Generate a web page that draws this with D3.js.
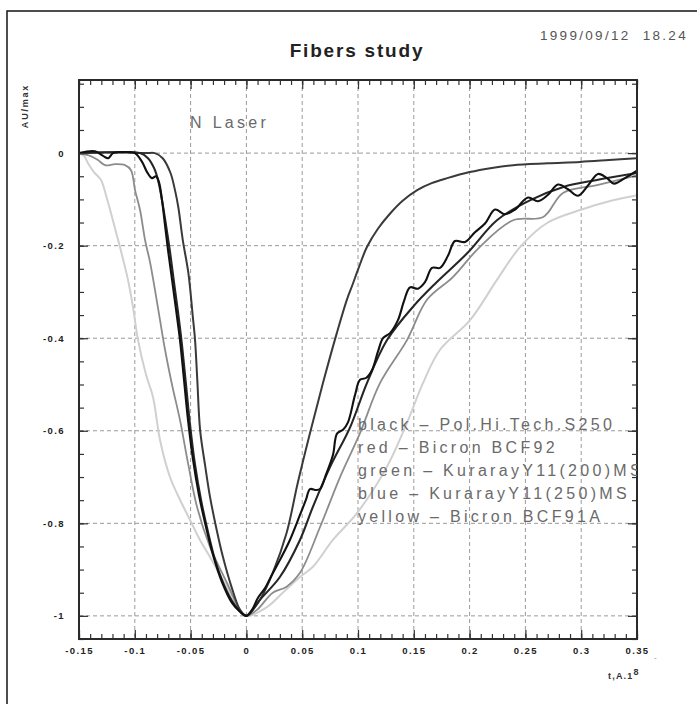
<!DOCTYPE html>
<html>
<head>
<meta charset="utf-8">
<script src="https://cdn.jsdelivr.net/npm/d3@7"></script>
<style>
  html, body { margin: 0; padding: 0; background: #fff; }
  svg { display: block; }
</style>
</head>
<body>
<script>
// ---- axis ticks ----
const xTicks = [-0.15, -0.1, -0.05, 0, 0.05, 0.1, 0.15, 0.2, 0.25, 0.3, 0.35];
const xTickLabels = ["-0.15", "-0.1", "-0.05", "0", "0.05", "0.1", "0.15", "0.2", "0.25", "0.3", "0.35"];
const yTicks = [0, -0.2, -0.4, -0.6, -0.8, -1];
const yTickLabels = ["0", "-0.2", "-0.4", "-0.6", "-0.8", "-1"];

// ---- series: [time, normalised amplitude] ----
const seriesKeys = ["yellow", "green", "red", "blue", "black"];
const legendLines = [
  "black \u2013 Pol.Hi.Tech.S250",
  "red \u2013 Bicron BCF92",
  "green \u2013 KurarayY11(200)MS",
  "blue \u2013 KurarayY11(250)MS",
  "yellow \u2013 Bicron BCF91A"
];

const black = [
  [-0.15, 0], [-0.1357, 0.004], [-0.1285, -0.006], [-0.124, -0.011], [-0.1195, 0], [-0.113, 0.002],
  [-0.1, 0], [-0.0935, -0.019], [-0.089, -0.041], [-0.0846, -0.054], [-0.081, -0.05], [-0.0783, -0.063],
  [-0.0756, -0.102], [-0.0729, -0.156], [-0.0702, -0.21], [-0.0666, -0.274], [-0.063, -0.339],
  [-0.0595, -0.404], [-0.0559, -0.49], [-0.0523, -0.577], [-0.0478, -0.663], [-0.0425, -0.739],
  [-0.0362, -0.808], [-0.03, -0.868], [-0.0219, -0.927], [-0.0129, -0.972], [-0.0057, -0.991], [0, -1],
  [0.005, -0.987], [0.0104, -0.961], [0.0167, -0.94], [0.0229, -0.911], [0.0301, -0.879], [0.039, -0.836],
  [0.048, -0.782], [0.0534, -0.749], [0.057, -0.726], [0.0624, -0.728], [0.066, -0.726], [0.0713, -0.695],
  [0.0776, -0.652], [0.0812, -0.606], [0.0866, -0.598], [0.091, -0.582], [0.0973, -0.523], [0.1018, -0.49],
  [0.1072, -0.486], [0.1125, -0.469], [0.118, -0.428], [0.1224, -0.4], [0.1287, -0.389], [0.1358, -0.361],
  [0.1412, -0.32], [0.1466, -0.29], [0.1538, -0.293], [0.16, -0.279], [0.1663, -0.248], [0.1735, -0.248],
  [0.1806, -0.222], [0.1869, -0.19], [0.1959, -0.192], [0.2048, -0.171], [0.2138, -0.152], [0.2228, -0.122],
  [0.2317, -0.132], [0.2407, -0.122], [0.2523, -0.096], [0.2613, -0.104], [0.2703, -0.09], [0.2792, -0.068],
  [0.2882, -0.078], [0.2971, -0.092], [0.3061, -0.07], [0.3151, -0.045], [0.3231, -0.054], [0.3294, -0.066],
  [0.3392, -0.054], [0.35, -0.038]
];

const red = [
  [-0.15, 0], [-0.12, 0.002], [-0.09, 0], [-0.082, 0], [-0.075, -0.011], [-0.068, -0.043], [-0.064, -0.08],
  [-0.061, -0.117], [-0.057, -0.188], [-0.052, -0.259], [-0.048, -0.354], [-0.046, -0.404], [-0.044, -0.49],
  [-0.0415, -0.598], [-0.037, -0.675], [-0.0326, -0.743], [-0.027, -0.81], [-0.021, -0.873], [-0.013, -0.94],
  [-0.0057, -0.987], [0, -1],
  [0.003, -0.994], [0.0122, -0.965], [0.0236, -0.907], [0.036, -0.821], [0.046, -0.713], [0.057, -0.605],
  [0.0686, -0.497], [0.081, -0.389], [0.09, -0.317], [0.095, -0.285], [0.1, -0.252], [0.108, -0.203],
  [0.118, -0.163], [0.129, -0.13], [0.14, -0.103], [0.153, -0.08], [0.166, -0.065], [0.18, -0.054],
  [0.2, -0.041], [0.22, -0.032], [0.239, -0.026], [0.27, -0.022], [0.299, -0.019], [0.325, -0.015], [0.35, -0.011]
];

const blue = [
  [-0.15, 0], [-0.12, 0.002], [-0.0953, 0], [-0.0882, -0.011], [-0.0828, -0.032], [-0.0792, -0.058],
  [-0.0756, -0.102], [-0.072, -0.156], [-0.0684, -0.214], [-0.0649, -0.279], [-0.0613, -0.343],
  [-0.0577, -0.415], [-0.0541, -0.501], [-0.0505, -0.587], [-0.046, -0.674], [-0.0407, -0.749],
  [-0.0344, -0.819], [-0.0281, -0.879], [-0.0201, -0.933], [-0.0111, -0.974], [0, -1],
  [0.0122, -0.965], [0.03, -0.916], [0.048, -0.836], [0.0595, -0.765], [0.075, -0.678], [0.093, -0.592],
  [0.108, -0.497], [0.126, -0.404], [0.15, -0.33], [0.17, -0.28], [0.198, -0.216], [0.2245, -0.145],
  [0.254, -0.102], [0.284, -0.073], [0.314, -0.058], [0.35, -0.043]
];

const green = [
  [-0.15, 0], [-0.14, -0.006], [-0.133, -0.015], [-0.1267, -0.026], [-0.1177, -0.024], [-0.1088, -0.026],
  [-0.1034, -0.037], [-0.0998, -0.08], [-0.0953, -0.123], [-0.0908, -0.188], [-0.0864, -0.235],
  [-0.0819, -0.296], [-0.0774, -0.361], [-0.0729, -0.425], [-0.0666, -0.501], [-0.0595, -0.577],
  [-0.0523, -0.67], [-0.0442, -0.765], [-0.0326, -0.851], [-0.0174, -0.929], [-0.0057, -0.987], [0, -1],
  [0.0095, -0.987], [0.0236, -0.95], [0.036, -0.937], [0.048, -0.907], [0.066, -0.808], [0.0839, -0.7],
  [0.1018, -0.605], [0.1197, -0.497], [0.1439, -0.404], [0.1618, -0.317], [0.185, -0.268], [0.209, -0.203],
  [0.239, -0.145], [0.266, -0.138], [0.2837, -0.086], [0.3142, -0.069], [0.35, -0.048]
];

const yellow = [
  [-0.15, 0], [-0.1455, -0.006], [-0.1419, -0.022], [-0.1366, -0.041], [-0.1303, -0.058], [-0.1258, -0.091],
  [-0.1213, -0.13], [-0.1168, -0.171], [-0.1133, -0.203], [-0.1061, -0.274], [-0.1016, -0.333],
  [-0.0971, -0.404], [-0.0899, -0.479], [-0.0837, -0.527], [-0.0774, -0.62], [-0.0685, -0.7],
  [-0.0595, -0.749], [-0.0505, -0.793], [-0.0416, -0.836], [-0.0326, -0.873], [-0.0237, -0.911],
  [-0.0147, -0.95], [-0.0057, -0.989], [0, -1],
  [0.0184, -0.981], [0.0326, -0.95], [0.048, -0.916], [0.0596, -0.894], [0.0775, -0.836], [0.0991, -0.778],
  [0.1259, -0.678], [0.1439, -0.583], [0.1582, -0.497], [0.1735, -0.425], [0.2004, -0.361], [0.2245, -0.274],
  [0.2452, -0.203], [0.2694, -0.151], [0.2991, -0.123], [0.3285, -0.102], [0.35, -0.091]
];

const seriesData = { black, red, blue, green, yellow };

// grey levels the colour plot prints with
const strokeOf = { black: "#111", blue: "#262626", red: "#3a3a3a", green: "#8c8c8c", yellow: "#d0d0d0" };
const widthOf = { black: 2.1, blue: 2.1, red: 2, green: 1.8, yellow: 2 };

// ---- layout ----
const W = 697, H = 704;
const L = 79, R = 637, T = 80, B = 639;

const svg = d3.select("body").append("svg").attr("width", W).attr("height", H);
svg.append("rect").attr("width", W).attr("height", H).attr("fill", "#fff");

// page frame
svg.append("rect").attr("x", 7).attr("y", 11).attr("width", 720).attr("height", 720)
  .attr("fill", "none").attr("stroke", "#222").attr("stroke-width", 1.6);

const x = d3.scaleLinear().domain([-0.15, 0.35]).range([L, R]);
const y = d3.scaleLinear().domain([-1.05, 0.158]).range([B, T]);

const fontFam = "'Liberation Sans', Arial, Helvetica, sans-serif";

// grid
const grid = svg.append("g").attr("stroke", "#9a9a9a").attr("stroke-width", 1).attr("stroke-dasharray", "4,3");
xTicks.slice(1, -1).forEach(v => {
  grid.append("line").attr("x1", x(v)).attr("x2", x(v)).attr("y1", T).attr("y2", B);
});
yTicks.forEach(v => {
  grid.append("line").attr("x1", L).attr("x2", R).attr("y1", y(v)).attr("y2", y(v));
});

// curves
svg.append("clipPath").attr("id", "plotClip")
  .append("rect").attr("x", L).attr("y", T).attr("width", R - L).attr("height", B - T);

const line = d3.line().x(d => x(d[0])).y(d => y(d[1])).curve(d3.curveCatmullRom.alpha(0.5));
const curves = svg.append("g").attr("clip-path", "url(#plotClip)");
seriesKeys.forEach(k => {
  curves.append("path").datum(seriesData[k])
    .attr("d", line).attr("fill", "none")
    .attr("stroke", strokeOf[k]).attr("stroke-width", widthOf[k])
    .attr("stroke-linejoin", "round");
});

// ticks on all four sides, pointing inward
const minorX = d3.range(-150, 351, 10).map(v => v / 1000);
const minorY = d3.range(-1050, 151, 50).map(v => v / 1000);

function styleAxis(g) {
  g.select(".domain").remove();
  g.selectAll(".tick line").attr("stroke", "#333").attr("stroke-width", 1.2);
}
svg.append("g").attr("transform", `translate(0,${B})`)
  .call(d3.axisBottom(x).tickValues(minorX).tickSize(-5).tickFormat("")).call(styleAxis);
svg.append("g").attr("transform", `translate(0,${T})`)
  .call(d3.axisTop(x).tickValues(minorX).tickSize(-5).tickFormat("")).call(styleAxis);
svg.append("g").attr("transform", `translate(${L},0)`)
  .call(d3.axisLeft(y).tickValues(minorY).tickSize(-5).tickFormat("")).call(styleAxis);
svg.append("g").attr("transform", `translate(${R},0)`)
  .call(d3.axisRight(y).tickValues(minorY).tickSize(-5).tickFormat("")).call(styleAxis);

// major ticks with labels
const xAx = svg.append("g").attr("transform", `translate(0,${B})`)
  .call(d3.axisBottom(x).tickValues(xTicks).tickSize(-9).tickPadding(8)
    .tickFormat((d, i) => xTickLabels[i])).call(styleAxis);
svg.append("g").attr("transform", `translate(0,${T})`)
  .call(d3.axisTop(x).tickValues(xTicks).tickSize(-9).tickFormat("")).call(styleAxis);
const yAx = svg.append("g").attr("transform", `translate(${L},0)`)
  .call(d3.axisLeft(y).tickValues(yTicks).tickSize(-9).tickPadding(14)
    .tickFormat((d, i) => yTickLabels[i])).call(styleAxis);
svg.append("g").attr("transform", `translate(${R},0)`)
  .call(d3.axisRight(y).tickValues(yTicks).tickSize(-9).tickFormat("")).call(styleAxis);

[xAx, yAx].forEach(g => g.selectAll(".tick text")
  .attr("font-family", fontFam).attr("font-size", 9.5).attr("font-weight", "bold")
  .attr("letter-spacing", 1.4).attr("fill", "#222"));

// plot frame
svg.append("rect").attr("x", L).attr("y", T).attr("width", R - L).attr("height", B - T)
  .attr("fill", "none").attr("stroke", "#2a2a2a").attr("stroke-width", 2);

// titles and annotations
svg.append("text").attr("x", 357).attr("y", 57).attr("text-anchor", "middle")
  .attr("font-family", fontFam).attr("font-size", 19).attr("font-weight", "bold")
  .attr("letter-spacing", 1.8).attr("fill", "#222").text("Fibers study");

svg.append("text").attr("x", 540).attr("y", 40)
  .attr("font-family", fontFam).attr("font-size", 13.5)
  .attr("letter-spacing", 2.3).attr("fill", "#555")
  .style("white-space", "pre").text("1999/09/12  18.24");

svg.append("text").attr("transform", "translate(28,106) rotate(-90)").attr("text-anchor", "middle")
  .attr("font-family", fontFam).attr("font-size", 9).attr("font-weight", "bold")
  .attr("letter-spacing", 1.8).attr("fill", "#333").text("AU/max");

const xName = svg.append("text").attr("x", 608).attr("y", 679)
  .attr("font-family", fontFam).attr("font-size", 9).attr("font-weight", "bold")
  .attr("letter-spacing", 1.2).attr("fill", "#333");
xName.append("tspan").text("t,A.1");
xName.append("tspan").attr("dy", -4).text("8");

svg.append("text").attr("x", 654).attr("y", 660)
  .attr("font-family", fontFam).attr("font-size", 8).attr("fill", "#888").text("-");

const txt = svg.append("g").attr("clip-path", "url(#plotClip)")
  .attr("font-family", fontFam).attr("font-size", 16).attr("letter-spacing", 3.3).attr("fill", "#6a6a6a");

txt.append("text").attr("x", x(-0.0505)).attr("y", 128).text("N Laser");

txt.selectAll("text.leg").data(legendLines).join("text").attr("class", "leg")
  .attr("x", 358).attr("y", (d, i) => 430 + i * 23).text(d => d);
</script>
</body>
</html>
